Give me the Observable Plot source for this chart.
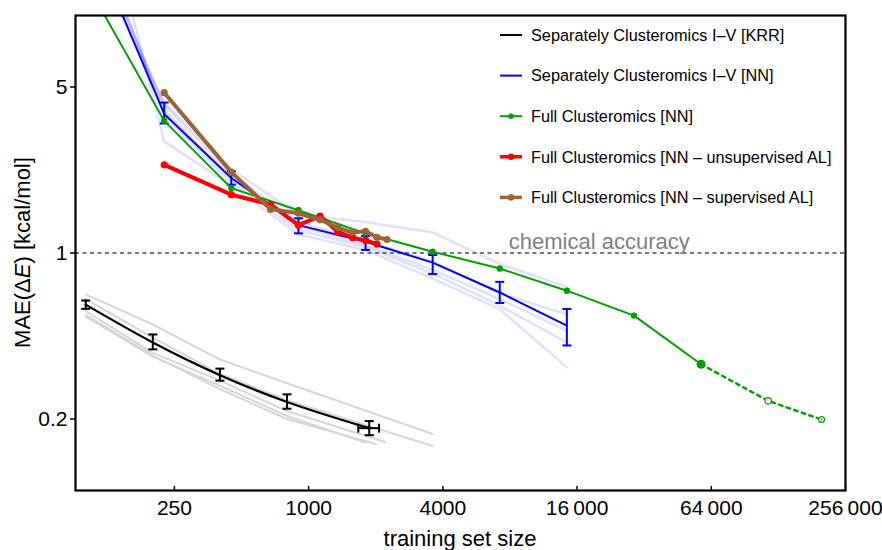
<!DOCTYPE html>
<html>
<head>
<meta charset="utf-8">
<script src="https://cdn.jsdelivr.net/npm/d3@7"></script>
<script src="https://cdn.jsdelivr.net/npm/@observablehq/plot@0.6"></script>
<style>
  html, body { margin: 0; padding: 0; background: white; }
</style>
</head>
<body>
<div id="chart"></div>
<script>
// ---------------- data ----------------
// Separately Clusteromics I–V [KRR] (mean, error bars)
const krrSizes = [100, 200, 400, 800, 1870];
const krrMAE   = [0.606, 0.42, 0.306, 0.236, 0.183];
const krrLo    = [0.582, 0.393, 0.290, 0.221, 0.171];
const krrHi    = [0.631, 0.454, 0.326, 0.254, 0.196];
const krrXLo   = [null, null, null, null, 1670];
const krrXHi   = [null, null, null, null, 2070];
// individual KRR runs (faint gray)
const krrRunSizes = [
  [100, 200, 400, 800, 3600],
  [100, 200, 400, 800, 3600],
  [100, 200, 400, 800, 2200],
  [100, 200, 400, 800, 1800],
  [100, 200, 400, 800, 2000]
];
const krrRunMAE = [
  [0.67, 0.50, 0.356, 0.283, 0.173],
  [0.64, 0.44, 0.31, 0.24, 0.154],
  [0.57, 0.38, 0.29, 0.216, 0.16],
  [0.54, 0.366, 0.276, 0.206, 0.159],
  [0.55, 0.37, 0.267, 0.20, 0.157]
];

// Separately Clusteromics I–V [NN]
const nnSizes = [112.5, 225, 450, 900, 1800, 3600, 7200, 14400];
const nnMAE   = [18, 3.85, 2.07, 1.31, 1.115, 0.911, 0.682, 0.495];
const nnLo    = [null, 3.51, 1.94, 1.21, 1.03, 0.815, 0.616, 0.408];
const nnHi    = [null, 4.30, 2.21, 1.40, 1.18, 0.981, 0.756, 0.581];
// individual NN runs (faint blue)
const nnRunMAE = [
  [16, 4.30, 2.25, 1.45, 1.35, 1.22, 0.90, 0.72],
  [19, 4.20, 2.15, 1.35, 1.12, 0.92, 0.68, 0.55],
  [20, 4.00, 2.05, 1.30, 1.08, 0.85, 0.64, 0.47],
  [22, 3.80, 1.98, 1.25, 1.06, 0.82, 0.60, 0.42],
  [40, 2.95, 1.92, 1.20, 1.03, 0.78, 0.58, 0.33]
];

// Full Clusteromics [NN]
const fullSizes = [112.5, 225, 450, 900, 1800, 3600, 7200, 14400, 28800, 57600];
const fullMAE   = [11.4, 3.60, 1.876, 1.514, 1.21, 1.013, 0.860, 0.694, 0.545, 0.340];
const fullExtSizes = [57600, 115200, 200000];
const fullExtMAE   = [0.340, 0.2385, 0.199];

// Full Clusteromics [NN – unsupervised AL]
const unsupSizes = [225, 450, 675, 900, 1125, 1350, 1575, 1800, 2025];
const unsupMAE   = [2.35, 1.76, 1.60, 1.31, 1.43, 1.23, 1.16, 1.13, 1.09];

// Full Clusteromics [NN – supervised AL]
const supSizes = [225, 450, 675, 900, 1125, 1350, 1575, 1800, 2025, 2250];
const supMAE   = [4.73, 2.19, 1.53, 1.47, 1.38, 1.28, 1.22, 1.235, 1.165, 1.14];

const chemAccuracy = 1;
const xTicks = [250, 1000, 4000, 16000, 64000, 256000];
const yTicks = [0.2, 1, 5];

const legendLabels = [
  "Separately Clusteromics I\u2013V [KRR]",
  "Separately Clusteromics I\u2013V [NN]",
  "Full Clusteromics [NN]",
  "Full Clusteromics [NN \u2013 unsupervised AL]",
  "Full Clusteromics [NN \u2013 supervised AL]"
];
const colors = ["#000000", "#0000ff", "#00a000", "#ff0000", "#996633"];

// ---------------- tables ----------------
const krr = krrSizes.map((x, i) => ({x, y: krrMAE[i], lo: krrLo[i], hi: krrHi[i], xlo: krrXLo[i], xhi: krrXHi[i]}));
const krrRuns = krrRunSizes.flatMap((xs, r) => xs.map((x, i) => ({run: r, x, y: krrRunMAE[r][i]})));
const nn = nnSizes.map((x, i) => ({x, y: nnMAE[i], lo: nnLo[i], hi: nnHi[i]}));
const nnRuns = nnRunMAE.flatMap((ys, r) => ys.map((y, i) => ({run: r, x: nnSizes[i], y})));
const full = fullSizes.map((x, i) => ({x, y: fullMAE[i]}));
const fullExt = fullExtSizes.map((x, i) => ({x, y: fullExtMAE[i]}));
const unsup = unsupSizes.map((x, i) => ({x, y: unsupMAE[i]}));
const sup = supSizes.map((x, i) => ({x, y: supMAE[i]}));

const fmtX = d => d >= 10000 ? d3.format(",")(d).replace(/,/g, "\u2009") : String(d);

const capH = {draw(ctx) { ctx.moveTo(-4.5, 0); ctx.lineTo(4.5, 0); }};
const capV = {draw(ctx) { ctx.moveTo(0, -4.5); ctx.lineTo(0, 4.5); }};
const tickUp = {draw(ctx, l) { ctx.moveTo(0, 0); ctx.lineTo(0, -l); }};

const nnBars = nn.filter(d => d.lo != null);
const krrXBars = krr.filter(d => d.xlo != null);

const chart = Plot.plot({
  width: 882,
  height: 550,
  marginLeft: 75,
  marginRight: 37,
  marginTop: 15,
  marginBottom: 60,
  style: {fontFamily: "'Liberation Sans', Arial, Helvetica, sans-serif", fontSize: "21px", color: "black", background: "white"},
  x: {type: "log", domain: [90, 256000], axis: null},
  y: {type: "log", domain: [0.1, 10], axis: null},
  marks: [
    Plot.ruleY([chemAccuracy], {stroke: "#777777", strokeWidth: 2, strokeDasharray: "4,3.5"}),
    Plot.text([{x: 7900, y: chemAccuracy, t: "chemical accuracy"}], {x: "x", y: "y", text: "t", textAnchor: "start", lineAnchor: "bottom", dy: -4, fontSize: 22, fill: "#808080"}),
    // faint runs
    Plot.line(krrRuns, {x: "x", y: "y", z: "run", stroke: "#d6d6d6", strokeWidth: 2, clip: true}),
    Plot.line(nnRuns, {x: "x", y: "y", z: "run", stroke: "#0000ff", strokeOpacity: 0.12, strokeWidth: 2.5, clip: true}),
    // KRR
    Plot.line(krr, {x: "x", y: "y", stroke: colors[0], strokeWidth: 2.2, curve: "catmull-rom"}),
    Plot.ruleX(krr, {x: "x", y1: "lo", y2: "hi", stroke: colors[0], strokeWidth: 2}),
    Plot.dot(krr, {x: "x", y: "lo", symbol: capH, fill: "none", stroke: colors[0], strokeWidth: 2}),
    Plot.dot(krr, {x: "x", y: "hi", symbol: capH, fill: "none", stroke: colors[0], strokeWidth: 2}),
    Plot.ruleY(krrXBars, {y: "y", x1: "xlo", x2: "xhi", stroke: colors[0], strokeWidth: 2}),
    Plot.dot(krrXBars, {x: "xlo", y: "y", symbol: capV, fill: "none", stroke: colors[0], strokeWidth: 2}),
    Plot.dot(krrXBars, {x: "xhi", y: "y", symbol: capV, fill: "none", stroke: colors[0], strokeWidth: 2}),
    // NN separately
    Plot.line(nn, {x: "x", y: "y", stroke: colors[1], strokeWidth: 2, clip: true}),
    Plot.ruleX(nnBars, {x: "x", y1: "lo", y2: "hi", stroke: colors[1], strokeWidth: 2}),
    Plot.dot(nnBars, {x: "x", y: "lo", symbol: capH, fill: "none", stroke: colors[1], strokeWidth: 2}),
    Plot.dot(nnBars, {x: "x", y: "hi", symbol: capH, fill: "none", stroke: colors[1], strokeWidth: 2}),
    // Full NN
    Plot.line(full, {x: "x", y: "y", stroke: colors[2], strokeWidth: 2, clip: true}),
    Plot.line(fullExt, {x: "x", y: "y", stroke: colors[2], strokeWidth: 2.5, strokeDasharray: "3.5,4.5"}),
    Plot.dot(full.filter(d => d.x > 200 && d.x < 50000), {x: "x", y: "y", r: 3.2, fill: colors[2]}),
    Plot.dot(full.filter(d => d.x > 50000), {x: "x", y: "y", r: 4.5, fill: colors[2]}),
    Plot.dot(fullExt.slice(1), {x: "x", y: "y", r: d => d.x > 150000 ? 3.3 : 4, fill: "white", stroke: colors[2], strokeWidth: 1.2}),
    Plot.dot(fullExt.slice(2), {x: "x", y: "y", r: 0.9, fill: colors[2]}),
    // unsupervised AL
    Plot.line(unsup, {x: "x", y: "y", stroke: colors[3], strokeWidth: 4}),
    Plot.dot(unsup, {x: "x", y: "y", r: 3.6, fill: colors[3]}),
    // supervised AL
    Plot.line(sup, {x: "x", y: "y", stroke: colors[4], strokeWidth: 4}),
    Plot.dot(sup, {x: "x", y: "y", r: 3.6, fill: colors[4]}),
    // x axis (ticks inward, labels below)
    Plot.vector(xTicks, {x: d => d, frameAnchor: "bottom", length: 4, anchor: "start", shape: tickUp, stroke: "black", strokeWidth: 1.5}),
    Plot.text(xTicks, {x: d => d, frameAnchor: "bottom", text: fmtX, lineAnchor: "top", dy: 10, fontSize: 21, fill: "black"}),
    // y axis
    Plot.axisY(yTicks, {tickSize: 5, tickPadding: 3, tickFormat: d => String(d), label: null, fontSize: 21, strokeWidth: 1.5}),
    Plot.frame({stroke: "black", strokeWidth: 2.2})
  ]
});

document.getElementById("chart").appendChild(chart);

// ---------------- titles & legend ----------------
const svg = d3.select(chart);
const font = "'Liberation Sans', Arial, Helvetica, sans-serif";

svg.append("text")
  .attr("x", 460).attr("y", 546)
  .attr("text-anchor", "middle")
  .attr("font-family", font).attr("font-size", 22).attr("fill", "black")
  .text("training set size");

const yl = svg.append("text")
  .attr("transform", "translate(30,252.5) rotate(-90)")
  .attr("text-anchor", "middle")
  .attr("font-family", font).attr("font-size", 22).attr("fill", "black");
yl.append("tspan").text("MAE(\u0394");
yl.append("tspan").attr("font-style", "italic").text("E");
yl.append("tspan").text(") [kcal/mol]");

const lg = svg.append("g").attr("font-family", font).attr("font-size", 16.3).attr("text-anchor", "start");
legendLabels.forEach((label, i) => {
  const cy = 35 + i * 40.6;
  const w = i >= 3 ? 3.5 : 2;
  lg.append("line").attr("x1", 500).attr("x2", 522).attr("y1", cy).attr("y2", cy)
    .attr("stroke", colors[i]).attr("stroke-width", w);
  if (i >= 2) {
    lg.append("circle").attr("cx", 511).attr("cy", cy).attr("r", i >= 3 ? 3.3 : 2.8).attr("fill", colors[i]);
  }
  lg.append("text").attr("x", 531).attr("y", cy).attr("dy", "0.35em").attr("text-anchor", "start").attr("fill", "black").text(label);
});
</script>
</body>
</html>
